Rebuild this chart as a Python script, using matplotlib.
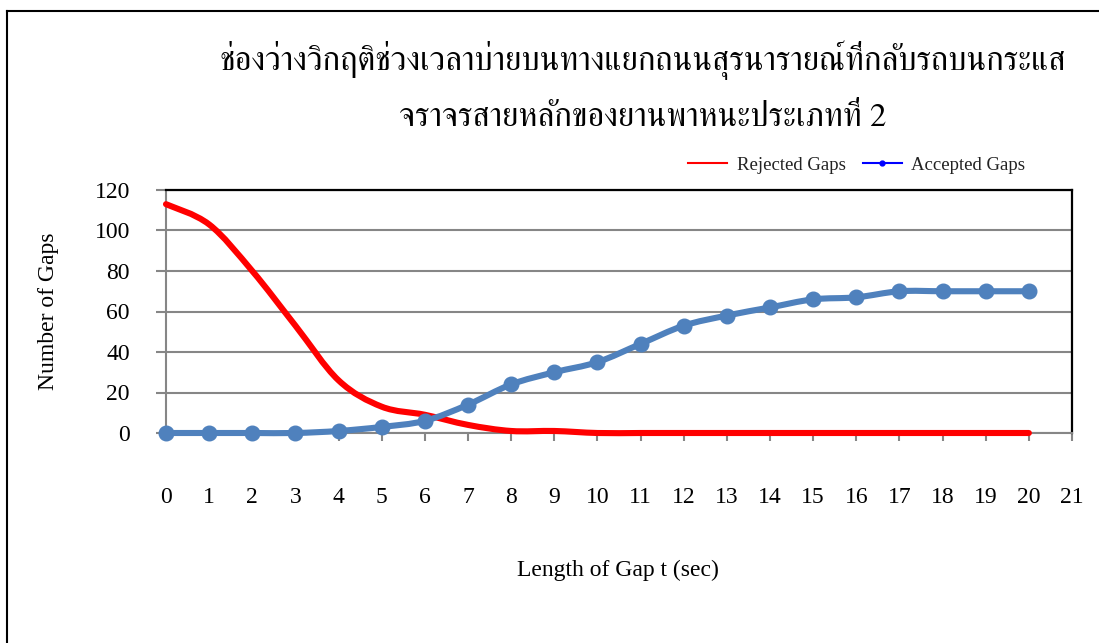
import numpy as np
import matplotlib
matplotlib.use('Agg')
import matplotlib.pyplot as plt
from matplotlib import font_manager
from matplotlib.path import Path
from matplotlib.patches import PathPatch
from matplotlib.lines import Line2D

# data
gap_len = [0, 1, 2, 3, 4, 5, 6, 7, 8, 9, 10, 11, 12, 13, 14, 15, 16, 17, 18, 19, 20]
rejected = [113, 103, 80, 53, 26, 13, 9, 4, 1, 1, 0, 0, 0, 0, 0, 0, 0, 0, 0, 0, 0]
accepted = [0, 0, 0, 0, 1, 3, 6, 14, 24, 30, 35, 44, 53, 58, 62, 66, 67, 70, 70, 70, 70]
x_ticks = list(range(0, 22))
y_ticks = [0, 20, 40, 60, 80, 100, 120]

title_lines = ['ช่องว่างวิกฤติช่วงเวลาบ่ายบนทางแยกถนนสุรนารายณ์ที่กลับรถบนกระแส',
               'จราจรสายหลักของยานพาหนะประเภทที่ 2']


def find_thai_font():
    # look for any installed font that covers Thai
    try:
        from fontTools.ttLib import TTFont
    except ImportError:
        return None
    found = []
    for f in font_manager.fontManager.ttflist:
        try:
            tt = TTFont(f.fname, fontNumber=0, lazy=True)
            cmap = tt.getBestCmap()
            if cmap and 0x0E0A in cmap and 0x0E48 in cmap:
                found.append((f.name, f.weight))
        except Exception:
            pass
    if not found:
        return None
    for name, w in found:
        if ('Serif' in name or 'Norasi' in name or 'Kinnari' in name) and w in (400, 'normal', 'regular'):
            return name
    return found[0][0]


def smooth_path(xs, ys):
    # Excel style smoothed line as cubic bezier segments
    pts = np.column_stack([xs, ys]).astype(float)
    n = len(pts)
    verts = [pts[0]]
    codes = [Path.MOVETO]
    for i in range(n - 1):
        p0 = pts[i - 1] if i > 0 else pts[i]
        p1 = pts[i]
        p2 = pts[i + 1]
        p3 = pts[i + 2] if i + 2 < n else pts[i + 1]
        verts += [p1 + (p2 - p0) / 6, p2 - (p3 - p1) / 6, p2]
        codes += [Path.CURVE4] * 3
    return Path(verts, codes)


thai_font = find_thai_font()
serif = 'Liberation Serif'
title_family = [thai_font, serif] if thai_font else [serif, 'DejaVu Sans']

plt.rcParams['font.family'] = [serif, 'DejaVu Serif']

fig = plt.figure(figsize=(10.99, 6.43), dpi=100)
ax = fig.add_axes([166 / 1099, 1 - 433 / 643, 906 / 1099, 243 / 643])

red = '#FF0000'
blue = '#4F81BD'
grid_c = '#868686'

red_line = PathPatch(smooth_path(gap_len, rejected), fill=False,
                     edgecolor=red, lw=4.4, capstyle='round', zorder=3)
blue_line = PathPatch(smooth_path(gap_len, accepted), fill=False,
                      edgecolor=blue, lw=4.4, capstyle='round', zorder=4)
for p in (red_line, blue_line):
    p.set_clip_on(False)
    ax.add_patch(p)
ax.plot(gap_len, accepted, linestyle='none', marker='o', markersize=10.5,
        color=blue, zorder=5, clip_on=False)

ax.set_xlim(0, 21)
ax.set_ylim(0, 120)
ax.set_xticks(x_ticks)
ax.set_yticks(y_ticks)
ax.yaxis.grid(True, color=grid_c, lw=1.5)
ax.set_axisbelow(True)

for s in ['left', 'bottom']:
    ax.spines[s].set_color(grid_c)
    ax.spines[s].set_linewidth(1.5)
for s in ['top', 'right']:
    ax.spines[s].set_color('black')
    ax.spines[s].set_linewidth(1.6)

ax.tick_params(axis='x', direction='out', length=6, width=1.5, color=grid_c,
               pad=33, labelsize=17)
ax.tick_params(axis='y', direction='out', length=7, width=1.5, color=grid_c,
               pad=19, labelsize=17)

ax.set_xlabel('Length of Gap t (sec)', fontsize=17, va='center')
ax.xaxis.set_label_coords(0.499, -0.564)
ax.set_ylabel('Number of Gaps', fontsize=17, va='center')
ax.yaxis.set_label_coords(-0.130, 0.5)

for i, line in enumerate(title_lines):
    fig.text(643 / 1099, 1 - (60 + 58 * i) / 643, line, ha='center', va='center',
             fontsize=23.6, family=title_family)

handles = [Line2D([], [], color=red, lw=1.5),
           Line2D([], [], color='#0000FF', lw=1.5, marker='o', markersize=3.5)]
fig.legend(handles, ['Rejected Gaps', 'Accepted Gaps'], loc='center left',
           bbox_to_anchor=(688 / 1099, 1 - 165 / 643), ncol=2, frameon=False,
           fontsize=13.5, handlelength=2.1, handletextpad=0.5, columnspacing=0.9,
           borderpad=0, borderaxespad=0, labelcolor='#222222')

# outer frame (left and top edges visible)
fig.add_artist(Line2D([7 / 1099, 7 / 1099], [0, 1 - 11 / 643], color='black',
                      lw=1.5, transform=fig.transFigure))
fig.add_artist(Line2D([7 / 1099, 1], [1 - 11 / 643, 1 - 11 / 643], color='black',
                      lw=1.5, transform=fig.transFigure))

fig.savefig('out.png', dpi=100)
